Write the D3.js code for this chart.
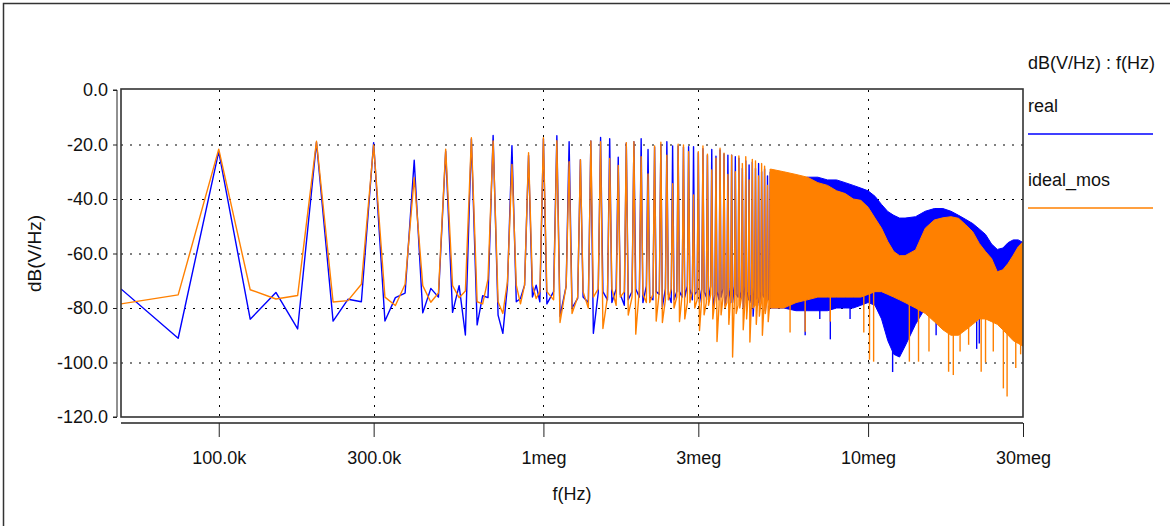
<!DOCTYPE html>
<html>
<head>
<meta charset="utf-8">
<script src="https://cdn.jsdelivr.net/npm/d3@7"></script>
<style>
  body { margin: 0; background: #fff; }
  svg text { font-family: "Liberation Sans", Arial, sans-serif; fill: #111; }
</style>
</head>
<body>
<div id="chart"></div>
<script>
// Sweep 50k..1meg, 25k step (kHz)
var sweepKHz = [50,75,100,125,150,175,200,225,250,275,300,325,350,375,400,425,450,475,500,
                525,550,575,600,625,650,675,700,725,750,775,800,825,850,875,900,925,950,975,1000];
var realLow  = [-73.0,-91.1,-22.6,-84.1,-74.3,-87.7,-19.2,-84.8,-76.8,-77.7,-19.3,-84.8,-76.2,-74.5,-25.8,-81.8,-72.8,-76.0,-22.5,
                -81.6,-71.8,-89.9,-18.0,-86.2,-75.5,-76.2,-16.7,-82.6,-89.3,-71.7,-20.4,-77.7,-76.5,-71.6,-24.0,-76.0,-71.6,-77.7,-18.0];
var idealLow = [-78.5,-75.2,-21.7,-73.3,-76.7,-75.4,-18.8,-77.8,-77.3,-71.3,-20.2,-76.0,-79.1,-71.3,-32.2,-71.8,-77.9,-74.5,-21.7,
                -71.8,-76.2,-73.8,-17.5,-77.7,-78.5,-69.4,-18.7,-77.7,-82.0,-70.3,-27.3,-71.6,-78.5,-71.6,-23.0,-71.6,-76.5,-74.0,-17.5];

// Harmonics 1.1meg..5meg (MHz) with peak levels, and the two samples before each (+25k, +75k of previous)
var harmMHz = [1.1,1.2,1.3,1.4,1.5,1.6,1.7,1.8,1.9,2.0,2.1,2.2,2.3,2.4,2.5,2.6,2.7,2.8,2.9,3.0,
               3.1,3.2,3.3,3.4,3.5,3.6,3.7,3.8,3.9,4.0,4.1,4.2,4.3,4.4,4.5,4.6,4.7,4.8,4.9,5.0];
var realPeak  = [-16.8,-19.0,-25.6,-18.7,-17.4,-17.9,-24.7,-19.5,-19.0,-17.9,-21.8,-21.0,-20.0,-19.0,-20.5,-20.5,-21.0,-20.8,-20.8,-23.0,
                 -21.5,-24.0,-21.8,-24.3,-22.0,-23.5,-23.9,-23.9,-24.5,-25.0,-28.8,-26.0,-27.5,-26.5,-28.8,-27.0,-30.0,-29.0,-31.5,-30.0];
var idealPeak = [-18.6,-26.3,-25.6,-18.7,-19.0,-25.1,-27.7,-19.3,-19.0,-24.5,-30.8,-20.5,-19.2,-23.9,-34.4,-19.9,-20.2,-22.6,-38.5,-22.6,
                 -20.5,-23.6,-29.3,-25.0,-21.4,-23.2,-31.0,-23.9,-30.0,-24.2,-27.0,-24.5,-33.0,-25.5,-26.0,-31.5,-27.0,-28.0,-35.0,-29.0];
var realGapA  = [-78.5,-83.0,-80.0,-76.0,-89.3,-74.0,-78.0,-75.0,-77.0,-73.0,-78.0,-76.0,-74.0,-79.6,-75.0,-77.0,-74.0,-76.0,-73.0,-75.0,
                 -78.0,-74.0,-77.0,-80.0,-74.0,-76.0,-79.0,-73.0,-78.0,-75.0,-77.0,-80.0,-74.0,-78.0,-83.0,-76.0,-79.0,-75.0,-81.0,-77.0];
var realGapB  = [-74.0,-72.0,-76.5,-78.0,-74.5,-77.0,-73.0,-79.0,-74.0,-76.0,-72.0,-77.0,-75.0,-73.0,-78.0,-74.0,-76.0,-72.0,-77.0,-74.0,
                 -73.0,-76.0,-72.0,-75.0,-77.0,-73.0,-75.0,-78.0,-72.0,-76.0,-74.0,-72.0,-77.0,-75.0,-73.0,-78.0,-74.0,-76.0,-73.0,-75.0];
var idealGapA = [-74.0,-85.3,-82.0,-74.0,-76.0,-87.5,-73.0,-76.0,-82.6,-89.6,-75.0,-78.0,-84.8,-85.3,-77.0,-80.0,-85.0,-84.0,-78.0,-80.0,
                 -88.3,-82.5,-79.0,-84.0,-92.3,-82.5,-80.0,-86.0,-98.0,-82.0,-80.0,-88.0,-84.0,-92.5,-80.0,-86.0,-83.0,-90.0,-82.0,-85.0];
var idealGapB = [-77.0,-72.0,-76.0,-80.0,-73.0,-76.0,-79.0,-74.0,-76.0,-73.0,-78.0,-75.0,-74.0,-77.0,-73.0,-76.0,-75.0,-78.0,-74.0,-77.0,
                 -76.0,-78.0,-75.0,-77.0,-79.0,-76.0,-78.0,-75.0,-77.0,-79.0,-76.0,-78.0,-75.0,-77.0,-79.0,-76.0,-78.0,-80.0,-77.0,-79.0];

// Dense region 5meg..30meg: envelope of the harmonic comb (MHz)
var bandMHz   = [5,5.5,6,6.5,7,7.5,8,8.5,9,9.5,10,10.5,11,11.5,12,12.5,13,14,15,16,17,18,19,20,21,22,23,24,25,26,27,28,29,30];
var realTop   = [-30,-33,-33,-32,-32,-33,-33,-34,-35,-36,-37,-39,-42,-44.6,-46,-47,-47,-46.5,-44.5,-43.5,-43.5,-44.5,-46,-47.5,-49,-51,-53,-56.5,-58.5,-58,-56,-55,-55,-56];
var realBot   = [-80,-80,-81,-81,-81,-81,-80,-80,-80,-79,-78,-79,-84,-92,-97,-98,-94,-86,-80,-82,-84,-86,-86,-85,-84,-82,-82,-83,-84,-85,-86,-86,-87,-88];
var idealTop  = [-29,-30,-31,-32,-34,-35,-37,-38,-40,-40.5,-43,-47,-50.7,-55.6,-59.3,-60.8,-60.8,-58.7,-50.7,-47.7,-46.9,-46.5,-47.1,-49.5,-52,-56.3,-59.3,-61.8,-66.7,-66,-63.6,-60.6,-57.5,-55.7];
var idealBot  = [-80,-80,-78,-77,-76,-76,-76,-76,-76,-76,-75,-74,-74,-75,-76,-77,-78,-80,-82,-85,-88,-90,-90,-88,-86,-84,-84,-85,-86,-88,-90,-92,-93,-94];

// Deep single-line dips below the band
var realSpikeMHz  = [6.4,7.1,7.65,8.8,11.9,16.2,21.6,22.0,28.2];
var realSpikeDb   = [-90,-84,-91.5,-84,-103.5,-90,-95,-93,-89];
var idealSpikeMHz = [5.75,6.4,7.65,9.7,10.1,10.4,13.4,14.3,15.4,17.7,18.3,19.2,20.4,22.3,23.0,24.3,26.1,26.8,28.5,29.5];
var idealSpikeDb  = [-89,-88.7,-85,-89,-99,-99.7,-99.7,-99.7,-96,-103.4,-104.6,-96,-93.5,-103.4,-100,-96,-109.5,-112.5,-102,-97];

// Axis ticks
var xTickHz    = [1e5,3e5,1e6,3e6,1e7,3e7];
var xTickLabel = ["100.0k","300.0k","1meg","3meg","10meg","30meg"];
var yTicks     = [0,-20,-40,-60,-80,-100,-120];

var colors = {real:"#0000ff", ideal:"#ff8000"};

//Set dimensions of svg
var w=1170, h=526;
var plot={left:121, right:1023, top:90, bottom:417};

var svg=d3.select("#chart").append("svg").attr("width",w).attr("height",h);

//Outer frame (runs off the right/bottom edge)
svg.append("rect").attr("x",3.5).attr("y",3.5).attr("width",1300).attr("height",700)
   .attr("fill","none").attr("stroke","#333").attr("stroke-width",1.5);

var x=d3.scaleLog().domain([5e4,3e7]).range([plot.left,plot.right]);
var y=d3.scaleLinear().domain([-120,0]).range([plot.bottom,plot.top]);

//Clip
svg.append("clipPath").attr("id","clip").append("rect")
   .attr("x",plot.left).attr("y",plot.top-2).attr("width",plot.right-plot.left).attr("height",plot.bottom-plot.top+2);

//Grid
var grid=svg.append("g");
grid.selectAll("line.hg").data(yTicks.filter(function(d){return d<0 && d>-120;})).enter()
    .append("line").attr("x1",plot.left).attr("x2",plot.right)
    .attr("y1",function(d){return y(d)+0.5;}).attr("y2",function(d){return y(d)+0.5;})
    .attr("stroke","#000").attr("stroke-width",1).attr("stroke-dasharray","2,7");
grid.selectAll("line.vg").data(xTickHz.slice(0,5)).enter()
    .append("line").attr("y1",plot.top).attr("y2",plot.bottom)
    .attr("x1",function(d){return Math.round(x(d))+0.5;}).attr("x2",function(d){return Math.round(x(d))+0.5;})
    .attr("stroke","#000").attr("stroke-width",1).attr("stroke-dasharray","2,7");

//Build the swept series
function buildSeries(low,gapA,gapB,peak){
    var pts=sweepKHz.map(function(k,i){return [k*1e3,low[i]];});
    harmMHz.forEach(function(m,i){
        pts.push([(m-0.075)*1e6,gapA[i]]);
        pts.push([(m-0.025)*1e6,gapB[i]]);
        pts.push([m*1e6,peak[i]]);
    });
    return pts;
}
var realPts=buildSeries(realLow,realGapA,realGapB,realPeak);
var idealPts=buildSeries(idealLow,idealGapA,idealGapB,idealPeak);

var line=d3.line().x(function(d){return x(d[0]);}).y(function(d){return y(d[1]);});
function bandArea(top,bot){
    return d3.area().x(function(d){return x(d*1e6);})
             .y0(function(d,i){return y(bot[i]);}).y1(function(d,i){return y(top[i]);});
}

var data=svg.append("g").attr("clip-path","url(#clip)");

function drawSeries(pts,top,bot,spF,spV,col){
    data.append("g").selectAll("line").data(spF).enter().append("line")
        .attr("x1",function(d){return x(d*1e6);}).attr("x2",function(d){return x(d*1e6);})
        .attr("y1",y(-70)).attr("y2",function(d,i){return y(spV[i]);})
        .attr("stroke",col).attr("stroke-width",1.4);
    data.append("path").datum(bandMHz).attr("d",bandArea(top,bot))
        .attr("fill",col).attr("stroke",col).attr("stroke-width",1);
    data.append("path").datum(pts).attr("d",line)
        .attr("fill","none").attr("stroke",col).attr("stroke-width",1.4).attr("stroke-linejoin","round");
}
drawSeries(realPts,realTop,realBot,realSpikeMHz,realSpikeDb,colors.real);
drawSeries(idealPts,idealTop,idealBot,idealSpikeMHz,idealSpikeDb,colors.ideal);

//Plot frame
svg.append("rect").attr("x",plot.left).attr("y",plot.top-1).attr("width",plot.right-plot.left).attr("height",plot.bottom-plot.top+1)
   .attr("fill","none").attr("stroke","#333").attr("stroke-width",1.6);

//Y axis (separate line left of the frame)
var yAxis=d3.axisLeft(y).tickValues(yTicks).tickSize(4).tickPadding(5).tickFormat(function(d){return d.toFixed(1);});
var gy=svg.append("g").attr("transform","translate(117,0)").call(yAxis);
gy.select(".domain").attr("stroke","#222").attr("d","M-4,"+y(0)+"H0V"+y(-120)+"H-4");
gy.selectAll(".tick line").attr("stroke","#222");
gy.selectAll("text").style("font-size","18px").attr("fill","#111").attr("font-family",null);

//X axis (separate line below the frame)
var xAxis=d3.axisBottom(x).tickValues(xTickHz).tickSize(14).tickPadding(14)
            .tickFormat(function(d,i){return xTickLabel[i];});
var gx=svg.append("g").attr("transform","translate(0,423)").call(xAxis);
gx.select(".domain").attr("stroke","#222").attr("stroke-width",1.5).attr("d","M"+plot.left+",0H"+plot.right);
gx.selectAll(".tick line").attr("stroke","#222");
gx.selectAll("text").style("font-size","18px").attr("fill","#111").attr("font-family",null);

//Axis titles
svg.append("text").text("f(Hz)").attr("x",(plot.left+plot.right)/2).attr("y",500)
   .attr("text-anchor","middle").style("font-size","18px");
svg.append("text").text("dB(V/Hz)").attr("transform","translate(41,"+((plot.top+plot.bottom)/2)+") rotate(-90)")
   .attr("text-anchor","middle").style("font-size","19px");

//Legend
var legend=svg.append("g").attr("transform","translate(1028,0)");
legend.append("text").text("dB(V/Hz) : f(Hz)").attr("x",0).attr("y",69).style("font-size","18px");
var entries=[{name:"real",col:colors.real},{name:"ideal_mos",col:colors.ideal}];
entries.forEach(function(e,i){
    legend.append("text").text(e.name).attr("x",0).attr("y",112+i*74).style("font-size","18px");
    legend.append("line").attr("x1",0).attr("x2",125).attr("y1",134+i*74).attr("y2",134+i*74)
          .attr("stroke",e.col).attr("stroke-width",1.6);
});
</script>
</body>
</html>
